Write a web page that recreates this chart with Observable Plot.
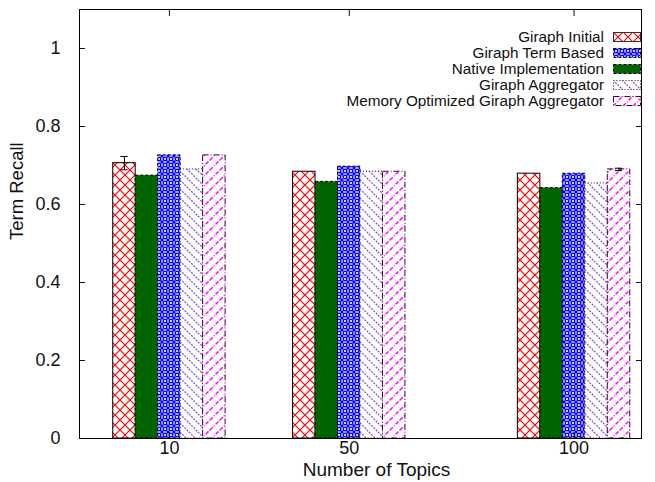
<!DOCTYPE html>
<html><head><meta charset="utf-8">
<script src="https://cdn.jsdelivr.net/npm/d3@7"></script>
<script src="https://cdn.jsdelivr.net/npm/@observablehq/plot@0.6"></script>
<style>
body{margin:0;background:#fff;}
#wrap{position:relative;width:655px;height:482px;font-family:"Liberation Sans",Arial,Helvetica,sans-serif;}
#legend{position:absolute;right:14px;top:29px;}
.lrow{display:flex;justify-content:flex-end;align-items:center;height:16px;font-size:15.3px;color:#111;}
.lrow svg{margin-left:9px;display:block;}
</style></head><body><div id="wrap"><div id="legend"></div></div>
<script>
// ---- data ----
const topics = [10, 50, 100];
const xTickLabels = ["10", "50", "100"];
const yTicks = [0, 0.2, 0.4, 0.6, 0.8, 1];
const yTickLabels = ["0", "0.2", "0.4", "0.6", "0.8", "1"];
const xTitle = "Number of Topics";
const yTitle = "Term Recall";

const seriesNames = ["Giraph Initial", "Giraph Term Based", "Native Implementation", "Giraph Aggregator", "Memory Optimized Giraph Aggregator"];
const giraphInitial = [0.706, 0.684, 0.679];
const giraphTermBased = [0.726, 0.697, 0.679];
const nativeImpl = [0.674, 0.658, 0.642];
const giraphAggregator = [0.690, 0.684, 0.654];
const memOptAggregator = [0.726, 0.684, 0.690];
const errInitial = [0.017, 0, 0];
const errMemOpt = [0, 0, 0.003];

// order of bars within a group (left to right), by series index
const barOrder = [0, 2, 1, 3, 4];
const slotOffsets = [-10, -5, 0, 5, 10];
const barWidth = 5;

// ---- styles ----
const patternIds = ["pInit", "pTerm", "pNative", "pAgg", "pMem"];
const borderColors = ["#000", "#000", "#000", "#2a0a3a", "#3a003a"];
const borderDash = [null, "3,2", "3,2", "1,2", "6,2,1,2"];

const values = [giraphInitial, giraphTermBased, nativeImpl, giraphAggregator, memOptAggregator];
const errs = [errInitial, null, null, null, errMemOpt];

const rows = [];
barOrder.forEach((s, slot) => {
  topics.forEach((t, j) => {
    const c = t + slotOffsets[slot];
    rows.push({series: s, topic: t, value: values[s][j], err: errs[s] ? errs[s][j] : 0,
      x1: c - barWidth / 2, x2: c + barWidth / 2, xc: c});
  });
});
const errRows = rows.filter(d => d.err > 0);

const font = '"Liberation Sans",Arial,Helvetica,sans-serif';

const marks = [];
barOrder.forEach(s => {
  marks.push(Plot.rectY(rows.filter(d => d.series === s), {
    x1: "x1", x2: "x2", y: "value",
    fill: `url(#${patternIds[s]})`,
    stroke: borderColors[s], strokeWidth: 1,
    strokeDasharray: borderDash[s]
  }));
});
marks.push(Plot.ruleX(errRows, {x: "xc", y1: d => d.value - d.err, y2: d => d.value + d.err, stroke: "black"}));
marks.push(Plot.ruleY(errRows, {y: d => d.value + d.err, x1: d => d.xc - 0.8, x2: d => d.xc + 0.8, stroke: "black"}));
marks.push(Plot.ruleY(errRows, {y: d => d.value - d.err, x1: d => d.xc - 0.8, x2: d => d.xc + 0.8, stroke: "black"}));
marks.push(Plot.axisY(yTicks, {anchor: "left", tickSize: -6, tickPadding: 25,
  tickFormat: d => yTickLabels[yTicks.indexOf(d)], label: null, fontSize: 18}));
marks.push(Plot.axisY(yTicks, {anchor: "right", tickSize: -6, tickFormat: () => "", label: null}));
marks.push(Plot.axisX(topics, {anchor: "bottom", tickSize: -6, tickPadding: 9,
  tickFormat: d => xTickLabels[topics.indexOf(d)], label: null, fontSize: 18}));
marks.push(Plot.axisX(topics, {anchor: "top", tickSize: -6, tickFormat: () => "", label: null}));
marks.push(Plot.text([xTitle], {text: d => d, frameAnchor: "bottom", lineAnchor: "middle", dx: 16, dy: 31, fontSize: 19, fill: "#111"}));
marks.push(Plot.text([yTitle], {text: d => d, frameAnchor: "left", lineAnchor: "middle", rotate: -90, dx: -62, dy: 16, fontSize: 18.5, fill: "#111"}));
marks.push(Plot.frame({stroke: "black", strokeWidth: 1}));

const chart = Plot.plot({
  width: 655, height: 482,
  marginLeft: 79, marginRight: 14, marginTop: 9, marginBottom: 44,
  style: {fontFamily: font, fontSize: "18px", color: "#111", background: "white"},
  x: {type: "linear", domain: [-10, 115]},
  y: {domain: [0, 1.1]},
  marks
});

// ---- patterns ----
const svg = d3.select(chart);
const defs = svg.insert("defs", ":first-child");
function pat(id, w, h) {
  const p = defs.append("pattern").attr("id", id).attr("patternUnits", "userSpaceOnUse")
    .attr("width", w).attr("height", h);
  p.append("rect").attr("width", w).attr("height", h).attr("fill", "white");
  return p;
}
let p = pat("pInit", 10, 10);
p.append("path").attr("d", "M0,0L10,10M10,0L0,10").attr("stroke", "#ff0000").attr("stroke-width", 1.2).attr("fill", "none");
p = pat("pTerm", 6, 6);
p.append("circle").attr("cx", 3).attr("cy", 3).attr("r", 1.8).attr("fill", "none").attr("stroke", "#0000ff").attr("stroke-width", 1.4);
p.append("path").attr("d", "M0,0L1.2,1.2M6,0L4.8,1.2M0,6L1.2,4.8M6,6L4.8,4.8").attr("stroke", "#0000ff").attr("stroke-width", 1.6);
p = defs.append("pattern").attr("id", "pNative").attr("patternUnits", "userSpaceOnUse").attr("width", 4).attr("height", 4);
p.append("rect").attr("width", 4).attr("height", 4).attr("fill", "#006400");
p = pat("pAgg", 9, 9);
p.append("path").attr("d", "M0,0L9,9M-1,8L1,10M8,-1L10,1").attr("stroke", "#8050e0").attr("stroke-width", 1.2).attr("stroke-dasharray", "2,1.2").attr("fill", "none");
p = pat("pMem", 10, 10);
p.append("path").attr("d", "M0,10L10,0M-1,1L1,-1M9,11L11,9").attr("stroke", "#ff00ff").attr("stroke-width", 1.4).attr("stroke-dasharray", "4,1.5,1,1.5").attr("fill", "none");

document.getElementById("wrap").prepend(chart);

// ---- legend ----
const legend = d3.select("#legend");
seriesNames.forEach((name, s) => {
  const row = legend.append("div").attr("class", "lrow");
  row.append("span").text(name);
  const sw = row.append("svg").attr("width", 28).attr("height", 10);
  sw.append("rect").attr("x", 0.5).attr("y", 0.5).attr("width", 27).attr("height", 9)
    .attr("fill", `url(#${patternIds[s]})`).attr("stroke", s === 0 ? "#333" : borderColors[s])
    .attr("stroke-dasharray", borderDash[s]);
});
</script>
</body></html>
